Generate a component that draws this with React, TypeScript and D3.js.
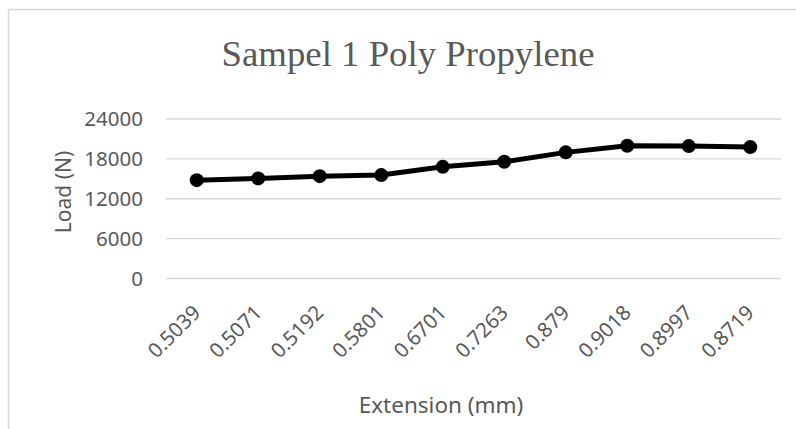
import * as d3 from "d3";

const extensions = ["0.5039", "0.5071", "0.5192", "0.5801", "0.6701", "0.7263", "0.879", "0.9018", "0.8997", "0.8719"];
const loads = [14800, 15060, 15400, 15560, 16800, 17560, 18980, 19970, 19920, 19770];
const yTicks = [0, 6000, 12000, 18000, 24000];

const W = 796, H = 429;
const plot = { left: 166, right: 781, top: 119, bottom: 278.5 };
const txt = "#595959";
const grid = "#d9d9d9";
const font = "'Noto Sans', 'Open Sans', sans-serif";

const App = () => {
    const xScale = d3.scaleBand().domain(extensions).range([plot.left, plot.right]);
    const yScale = d3.scaleLinear().domain([0, 24000]).range([plot.bottom, plot.top]);
    const cx = (d: string) => xScale(d)! + xScale.bandwidth() / 2;

    const pts = extensions.map((e, i) => ({ e, v: loads[i] }));
    const line = d3.line<{ e: string; v: number }>().x(d => cx(d.e)).y(d => yScale(d.v));

    return (
        <div style={{ position: "fixed", left: 0, top: 0 }}>
            <svg width={W} height={H} style={{ display: "block", background: "#fff" }}>
                {/* chart frame runs off the right/bottom edge */}
                <rect x={8.5} y={9.5} width={W + 20} height={H + 20} fill="#fff" stroke={grid} strokeWidth={1.5} />

                <text x={408} y={66} textAnchor="middle" fontFamily="'Liberation Serif', 'Times New Roman', serif"
                    fontSize={36} fill={txt} textLength={373} lengthAdjust="spacingAndGlyphs">
                    Sampel 1 Poly Propylene
                </text>

                {yTicks.map(t => (
                    <g key={t}>
                        <line x1={plot.left} x2={plot.right} y1={yScale(t)} y2={yScale(t)} stroke={grid} strokeWidth={1.3} />
                        <text x={143} y={yScale(t)} dy="0.36em" textAnchor="end" fontFamily={font} fontSize={20.5} fill={txt}>
                            {t}
                        </text>
                    </g>
                ))}

                {extensions.map(e => (
                    <text key={e} transform={`translate(${cx(e) + 5},${314}) rotate(-45)`} textAnchor="end"
                        fontFamily={font} fontSize={20.5} fill={txt}>
                        {e}
                    </text>
                ))}

                <path d={line(pts)!} fill="none" stroke="#000" strokeWidth={5} strokeLinejoin="round" />
                {pts.map(p => (
                    <circle key={p.e} cx={cx(p.e)} cy={yScale(p.v)} r={7} fill="#000" />
                ))}

                <text transform={`translate(71,192) rotate(-90)`} textAnchor="middle" fontFamily={font} fontSize={21} fill={txt}>
                    Load (N)
                </text>
                <text x={441} y={413} textAnchor="middle" fontFamily={font} fontSize={22.5} fill={txt}>
                    Extension (mm)
                </text>
            </svg>
        </div>
    );
};

export default App;
